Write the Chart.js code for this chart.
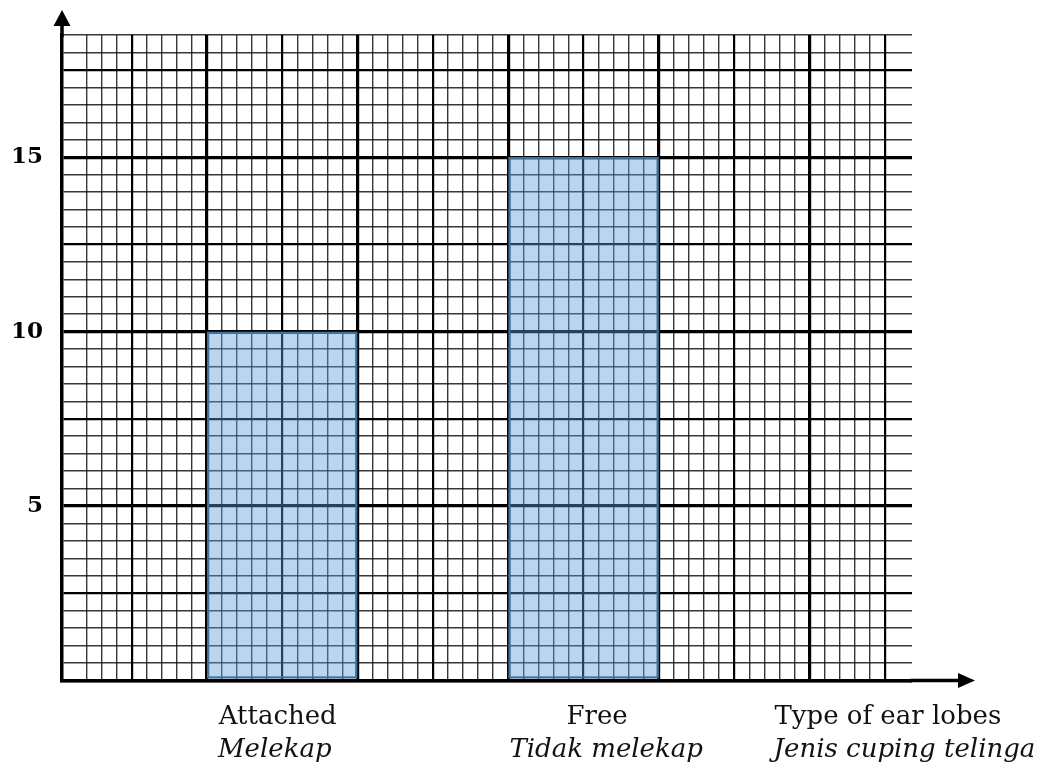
<!DOCTYPE html>
<html lang="en">
<head>
  <meta charset="UTF-8">
  <title>Type of ear lobes</title>
  <script src="https://cdn.jsdelivr.net/npm/chart.js"></script>
  <style>
    html, body { margin: 0; padding: 0; background: #fff; }
    #wrap { width: 1050px; height: 772px; }
  </style>
</head>
<body>
  <div id="wrap"><canvas id="earChart" width="1050" height="772"></canvas></div>

  <script>
    const categories = ['Attached', 'Free'];
    const categoriesMs = ['Melekap', 'Tidak melekap'];
    const counts = [10, 15];
    const columns = [15, 35];          // bar centres, in small grid squares along x
    const yTickLabels = [5, 10, 15];
    const axisTitle = ['Type of ear lobes', 'Jenis cuping telinga'];

    // grid range (x in small squares, y in count units)
    const X_MIN = 0.38, X_MAX = 56.8;
    const Y_MAX = 18.5;

    // where the text under the axis sits (in x grid units)
    const row1At = [14.7, 35.9, 55.2];
    const row2At = [14.5, 36.5, 56.3];

    function gridWidth(c, big, mid, wholeOnly) {
      if (!c.tick) return 1.4;
      const v = c.tick.value;
      if (wholeOnly && !Number.isInteger(v)) return 0;
      if (Math.abs(v % big) < 1e-6) return 3.2;
      if (Math.abs(v % mid) < 1e-6) return 2.2;
      return 1.4;
    }
    function gridColor(c, big, mid) {
      if (!c.tick) return '#000';
      const v = c.tick.value;
      if (Math.abs(v % big) < 1e-6 || Math.abs(v % mid) < 1e-6) return '#000';
      return 'rgba(0,0,0,0.78)';
    }

    // axes are drawn as arrows running past the paper
    const axisArrows = {
      id: 'axisArrows',
      afterDraw(chart) {
        const { ctx, chartArea: a } = chart;
        ctx.save();
        ctx.strokeStyle = '#000';
        ctx.fillStyle = '#000';
        ctx.lineWidth = 3.5;
        ctx.beginPath();
        ctx.moveTo(a.left, a.top + 2);
        ctx.lineTo(a.left, a.top - 12);
        ctx.moveTo(a.right - 2, a.bottom);
        ctx.lineTo(a.right + 48, a.bottom);
        ctx.stroke();
        ctx.beginPath();
        ctx.moveTo(a.left, a.top - 25);
        ctx.lineTo(a.left - 8.5, a.top - 9);
        ctx.lineTo(a.left + 8.5, a.top - 9);
        ctx.closePath();
        ctx.fill();
        ctx.beginPath();
        ctx.moveTo(a.right + 63, a.bottom);
        ctx.lineTo(a.right + 46, a.bottom - 7.5);
        ctx.lineTo(a.right + 46, a.bottom + 7.5);
        ctx.closePath();
        ctx.fill();
        ctx.restore();
      }
    };

    const labelFont = { family: "'DejaVu Serif', 'Liberation Serif', serif", size: 26 };

    // one row of text under the x axis; height is padding above + one line
    function labelAxis(positions, labels, italic, pad, weight) {
      return {
        type: 'linear',
        position: 'bottom',
        weight: weight,
        offset: false,
        min: X_MIN,
        max: X_MAX,
        grid: { display: false, drawTicks: false, offset: false },
        border: { display: false },
        afterBuildTicks: scale => {
          scale.ticks = positions.map(v => ({ value: v }));
        },
        afterFit: scale => {
          scale.height = pad + labelFont.size * 1.2;
        },
        ticks: {
          autoSkip: false,
          maxRotation: 0,
          padding: pad,
          color: '#111',
          font: Object.assign({}, labelFont, italic ? { style: 'italic' } : {}),
          callback: (v, i) => labels[i]
        }
      };
    }

    new Chart(document.getElementById('earChart').getContext('2d'), {
      type: 'bar',
      data: {
        datasets: [{
          data: columns.map((c, i) => ({ x: c, y: counts[i] })),
          xAxisID: 'xb',
          yAxisID: 'y',
          backgroundColor: 'rgba(91, 155, 213, 0.42)',
          borderColor: '#41719c',
          borderWidth: 2.5,
          borderSkipped: false,
          categoryPercentage: 1,
          barPercentage: 0.5
        }]
      },
      options: {
        responsive: false,
        animation: false,
        devicePixelRatio: 1,
        layout: { padding: { left: 12, right: 138, top: 35, bottom: 6 } },
        plugins: {
          legend: { display: false },
          tooltip: { enabled: false }
        },
        scales: {
          x: {
            type: 'linear',
            position: 'bottom',
            weight: 0,
            offset: false,
            min: X_MIN,
            max: X_MAX,
            ticks: { display: false, stepSize: 1 },
            grid: {
              offset: false,
              drawTicks: false,
              lineWidth: c => gridWidth(c, 10, 5, true),
              color: c => gridColor(c, 10, 5)
            },
            border: { display: true, color: '#000', width: 3.5 }
          },
          // carries the bars, same range as the paper grid
          xb: {
            type: 'linear',
            position: 'bottom',
            weight: 0,
            offset: false,
            min: X_MIN,
            max: X_MAX,
            ticks: { display: false, stepSize: 1000 },
            grid: { display: false, drawTicks: false, offset: false },
            border: { display: false }
          },
          xl1: labelAxis(row1At, categories.concat(axisTitle[0]), false, 21.4, 1),
          xl2: labelAxis(row2At, categoriesMs.concat(axisTitle[1]), true, 1.8, 2),
          y: {
            type: 'linear',
            min: 0,
            max: Y_MAX,
            afterFit: scale => { scale.width = 50; },
            ticks: {
              stepSize: 0.5,
              autoSkip: false,
              padding: 19,
              color: '#000',
              font: { family: "'DejaVu Serif', 'Liberation Serif', serif", size: 23, weight: 'bold' },
              callback: v => yTickLabels.includes(v) ? String(v) : ''
            },
            grid: {
              drawTicks: false,
              lineWidth: c => gridWidth(c, 5, 2.5, false),
              color: c => gridColor(c, 5, 2.5)
            },
            border: { display: true, color: '#000', width: 3.5 }
          }
        }
      },
      plugins: [axisArrows]
    });
  </script>
</body>
</html>
